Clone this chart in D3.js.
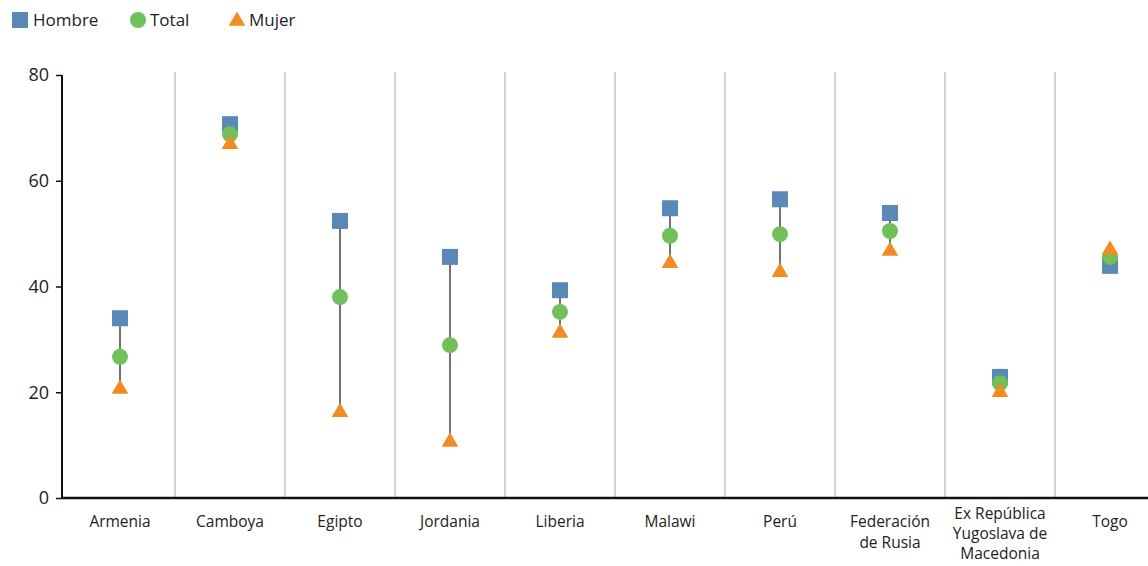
<!DOCTYPE html>
<html><head><meta charset="utf-8">
<script src="https://cdn.jsdelivr.net/npm/d3@7"></script>
<style>body{margin:0;background:#fff}svg{display:block;font-family:"Open Sans",Lato,sans-serif}</style>
</head><body><svg id="c" width="1148" height="566"></svg>
<script>
const categories = ["Armenia","Camboya","Egipto","Jordania","Liberia","Malawi","Perú","Federación de Rusia","Ex República Yugoslava de Macedonia","Togo"];
const categoryLines = [["Armenia"],["Camboya"],["Egipto"],["Jordania"],["Liberia"],["Malawi"],["Perú"],["Federación","de Rusia"],["Ex República","Yugoslava de","Macedonia"],["Togo"]];
const hombre = [34.0, 70.7, 52.4, 45.6, 39.3, 54.8, 56.5, 53.9, 22.9, 43.9];
const total  = [26.7, 68.8, 38.0, 28.9, 35.2, 49.6, 49.9, 50.5, 21.7, 45.6];
const mujer  = [20.8, 67.1, 16.4, 10.8, 31.4, 44.6, 42.9, 46.9, 20.2, 47.1];
const yTicks = [0, 20, 40, 60, 80];
const seriesNames = ["Hombre","Total","Mujer"];

const svg = d3.select("#c");
const x = d3.scaleBand().domain(categories).range([65, 1165]).padding(0);
const y = d3.scaleLinear().domain([0, 80]).range([498, 75]);
const colors = {Hombre:"#5b89b7", Total:"#72c05a", Mujer:"#f18c22"};
const FONT = "'Open Sans',Lato,sans-serif";

svg.append("g").selectAll("line").data(categories.slice(1)).join("line")
  .attr("x1", d => x(d)).attr("x2", d => x(d))
  .attr("y1", 72).attr("y2", 497)
  .attr("stroke", "#c4c4c4").attr("stroke-width", 1.5);

const yAxis = svg.append("g").attr("transform", "translate(62,0)")
  .call(d3.axisLeft(y).tickValues(yTicks).tickSize(6).tickPadding(7));
yAxis.select(".domain").attr("stroke", "#111").attr("stroke-width", 2).attr("d", "M0,75V498");
yAxis.selectAll(".tick line").attr("stroke", "#111").attr("stroke-width", 1.5);
yAxis.selectAll(".tick text").attr("font-size", 18).attr("fill", "#222").attr("font-family", FONT);

svg.append("line").attr("x1", 61).attr("x2", 1148).attr("y1", 498).attr("y2", 498)
  .attr("stroke", "#111").attr("stroke-width", 2.5);

const labelLines = [];
categories.forEach((c,i) => categoryLines[i].forEach((t,j) => labelLines.push({c, t, j, n: categoryLines[i].length})));
svg.append("g").selectAll("text").data(labelLines).join("text")
  .attr("text-anchor", "middle").attr("font-size", 15.5).attr("fill", "#222")
  .attr("x", d => x(d.c)+x.bandwidth()/2)
  .attr("y", d => d.n>2 ? 519 + d.j*20 : 527 + d.j*20.5)
  .text(d => d.t);

const data = categories.map((c,i) => ({c, h:hombre[i], t:total[i], m:mujer[i]}));
svg.append("g").selectAll("line").data(data).join("line")
  .attr("x1", d => x(d.c)+x.bandwidth()/2).attr("x2", d => x(d.c)+x.bandwidth()/2)
  .attr("y1", d => y(Math.max(d.h,d.t,d.m))).attr("y2", d => y(Math.min(d.h,d.t,d.m)))
  .attr("stroke", "#444").attr("stroke-width", 1.5);

const sq = d3.symbol().type(d3.symbolSquare).size(256);
const ci = d3.symbol().type(d3.symbolCircle).size(201);
const tr = d3.symbol().type(d3.symbolTriangle).size(120);

svg.append("g").selectAll("path").data(data).join("path")
  .attr("d", sq).attr("fill", colors.Hombre)
  .attr("transform", d => `translate(${x(d.c)+x.bandwidth()/2},${y(d.h)})`);
svg.append("g").selectAll("path").data(data).join("path")
  .attr("d", ci).attr("fill", colors.Total)
  .attr("transform", d => `translate(${x(d.c)+x.bandwidth()/2},${y(d.t)})`);
svg.append("g").selectAll("path").data(data).join("path")
  .attr("d", tr).attr("fill", colors.Mujer)
  .attr("transform", d => `translate(${x(d.c)+x.bandwidth()/2},${y(d.m)+1})`);

const legendX = [20, 138, 237];
const syms = {Hombre: sq, Total: ci, Mujer: tr};
const lg = svg.append("g").selectAll("g").data(seriesNames).join("g")
  .attr("transform", (d,i) => `translate(${legendX[i]},20)`);
lg.append("path").attr("d", d => syms[d]()).attr("fill", d => colors[d])
  .attr("transform", d => d==="Mujer" ? "translate(0,1)" : null);
lg.append("text").attr("x", d => d==="Hombre" ? 13 : 12).attr("y", 6)
  .attr("font-size", 17).attr("fill", "#222").text(d => d);
</script></body></html>
